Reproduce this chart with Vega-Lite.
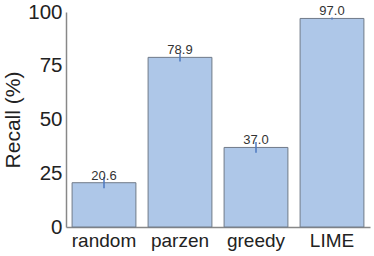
{
  "$schema": "https://vega.github.io/schema/vega-lite/v6.json",
  "autosize": "none",
  "width": 304,
  "height": 215,
  "padding": {"left": 66, "top": 12, "right": 4, "bottom": 29},
  "config": {
    "view": {"stroke": null},
    "font": "Liberation Sans"
  },
  "data": {
    "values": [
      {"method": "random", "recall": 20.6, "lo": 18.0, "hi": 23.2},
      {"method": "parzen", "recall": 78.9, "lo": 77.0, "hi": 80.8},
      {"method": "greedy", "recall": 37.0, "lo": 34.5, "hi": 39.5},
      {"method": "LIME", "recall": 97.0, "lo": 96.5, "hi": 97.5}
    ]
  },
  "encoding": {
    "x": {
      "field": "method", "type": "nominal", "sort": null,
      "scale": {"paddingInner": 0.16, "paddingOuter": 0.08},
      "axis": {
        "title": null, "labelAngle": 0, "labelFontSize": 19, "labelColor": "#222",
        "ticks": false, "labelPadding": 4, "domainColor": "#888", "domainWidth": 1.5
      }
    }
  },
  "layer": [
    {
      "mark": {"type": "bar", "fill": "#aec7e8", "stroke": "#707a88", "strokeWidth": 1},
      "encoding": {
        "y": {
          "field": "recall", "type": "quantitative",
          "scale": {"domain": [0, 100], "nice": false},
          "axis": {
            "title": "Recall (%)", "titleFontSize": 21, "titleFontWeight": "normal", "titleColor": "#222",
            "titlePadding": 4,
            "values": [0, 25, 50, 75, 100], "labelFontSize": 20.5, "labelColor": "#222",
            "ticks": false, "labelPadding": 4, "grid": false,
            "domainColor": "#888", "domainWidth": 1.5
          }
        }
      }
    },
    {
      "mark": {"type": "rule", "color": "#4c78c0", "strokeWidth": 1.5},
      "encoding": {
        "y": {"field": "lo", "type": "quantitative"},
        "y2": {"field": "hi"}
      }
    },
    {
      "mark": {"type": "text", "fontSize": 13, "color": "#333", "dy": -7},
      "encoding": {
        "y": {"field": "recall", "type": "quantitative"},
        "text": {"field": "recall", "type": "quantitative", "format": ".1f"}
      }
    }
  ]
}
